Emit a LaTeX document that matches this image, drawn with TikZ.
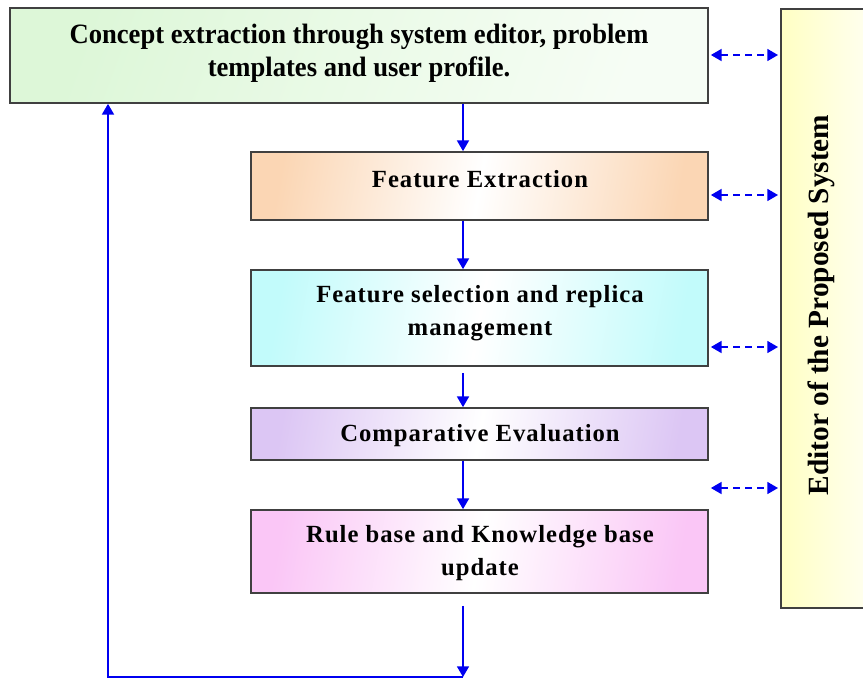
\documentclass[tikz,border=0pt]{standalone}
\usepackage{fontspec}
\setmainfont{Liberation Serif}
\usetikzlibrary{arrows.meta}
\definecolor{cgreen}{HTML}{DDF7D8}
\definecolor{cpeach}{HTML}{FBD6B4}
\definecolor{ccyan}{HTML}{C2FBFB}
\definecolor{clav}{HTML}{DCC6F4}
\definecolor{cpink}{HTML}{FAC6F6}
\definecolor{cyell}{HTML}{FFFFC4}
\definecolor{cline}{HTML}{0000F0}
\begin{document}
\begin{tikzpicture}[x=0.75pt,y=-0.75pt,
  box/.style={draw=black!75, line width=1.3pt, inner sep=0pt},
  lbl/.style={align=center, font=\bfseries\fontsize{18.5}{24.5}\selectfont},
  flow/.style={draw=cline, line width=1.1pt, -{Triangle[width=9pt,length=8pt]}},
  link/.style={draw=cline, line width=1.1pt, dash pattern=on 5pt off 4pt,
    {Triangle[width=9pt,length=8pt]}-{Triangle[width=9pt,length=8pt]}}
]
\useasboundingbox (0,0) rectangle (863,679);
\node[box, minimum width=523.5pt, minimum height=71.25pt,
  left color=cgreen, right color=cgreen!25, middle color=cgreen!60, shading angle=70]
  (top) at (359,55.5) {};
\node[align=center, font=\bfseries\fontsize{21}{24.75}\selectfont] (toptxt) at (359,53.5)
  {\addfontfeature{FakeStretch=0.95}Concept extraction through system editor, problem\\
   \addfontfeature{FakeStretch=0.95}templates and user profile.};
\node[box, minimum width=342.75pt, minimum height=51pt,
  left color=cpeach, right color=cpeach, middle color=white, shading angle=80]
  (fe) at (479.5,186) {};
\node[lbl] (fetxt) at (480,179) {\addfontfeature{LetterSpace=4}Feature Extraction};
\node[box, minimum width=342.75pt, minimum height=72pt,
  left color=ccyan, right color=ccyan, middle color=white, shading angle=80]
  (fs) at (479.5,318) {};
\node[lbl] (fstxt) at (480,313)
  {\addfontfeature{LetterSpace=4}Feature selection and replica\\ \addfontfeature{LetterSpace=4}management};
\node[box, minimum width=342.75pt, minimum height=39pt,
  left color=clav, right color=clav, middle color=white, shading angle=80]
  (ce) at (479.5,434) {};
\node[lbl] (cetxt) at (480,436) {\addfontfeature{LetterSpace=4}Comparative Evaluation};
\node[box, minimum width=342.75pt, minimum height=62.25pt,
  left color=cpink, right color=cpink, middle color=white, shading angle=80]
  (rb) at (479.5,551.5) {};
\node[lbl] (rbtxt) at (480,553)
  {\addfontfeature{LetterSpace=4}Rule base and Knowledge base\\ \addfontfeature{LetterSpace=4}update};
\node[box, minimum width=90pt, minimum height=449.25pt,
  left color=cyell, right color=white, shading angle=90, anchor=north west]
  (ed) at (780,8) {};
\node[rotate=90, font=\bfseries\fontsize{22}{24.5}\selectfont] (edtxt) at (821,305)
  {Editor of the Proposed System};
% helper coordinates
\coordinate (ax) at (463,0);
\coordinate (lx) at (108,0);
\coordinate (bot) at (0,677);
% flow arrows
\draw[flow] (top.south -| ax) -- (fe.north -| ax);
\draw[flow] (fe.south -| ax) -- (fs.north -| ax);
\draw[flow] ([yshift=-4.5pt]fs.south -| ax) -- (ce.north -| ax);
\draw[flow] (ce.south -| ax) -- (rb.north -| ax);
\coordinate (bend1) at (bot -| ax);
\coordinate (bend2) at (bot -| lx);
\draw[flow] ([yshift=-9pt]rb.south -| ax) -- (bend1);
\draw[flow] (bend1) -- (bend2) -- (top.south -| lx);
% editor links
\coordinate (y1) at (0,55);
\coordinate (y2) at (0,195);
\coordinate (y3) at (0,347);
\coordinate (y4) at (0,488);
\draw[link] ([xshift=1.5pt]top.east |- y1) -- ([xshift=-1.5pt]ed.west |- y1);
\draw[link] ([xshift=1.5pt]fe.east |- y2) -- ([xshift=-1.5pt]ed.west |- y2);
\draw[link] ([xshift=1.5pt]fs.east |- y3) -- ([xshift=-1.5pt]ed.west |- y3);
\draw[link] ([xshift=1.5pt]fs.east |- y4) -- ([xshift=-1.5pt]ed.west |- y4);
\end{tikzpicture}
\end{document}
